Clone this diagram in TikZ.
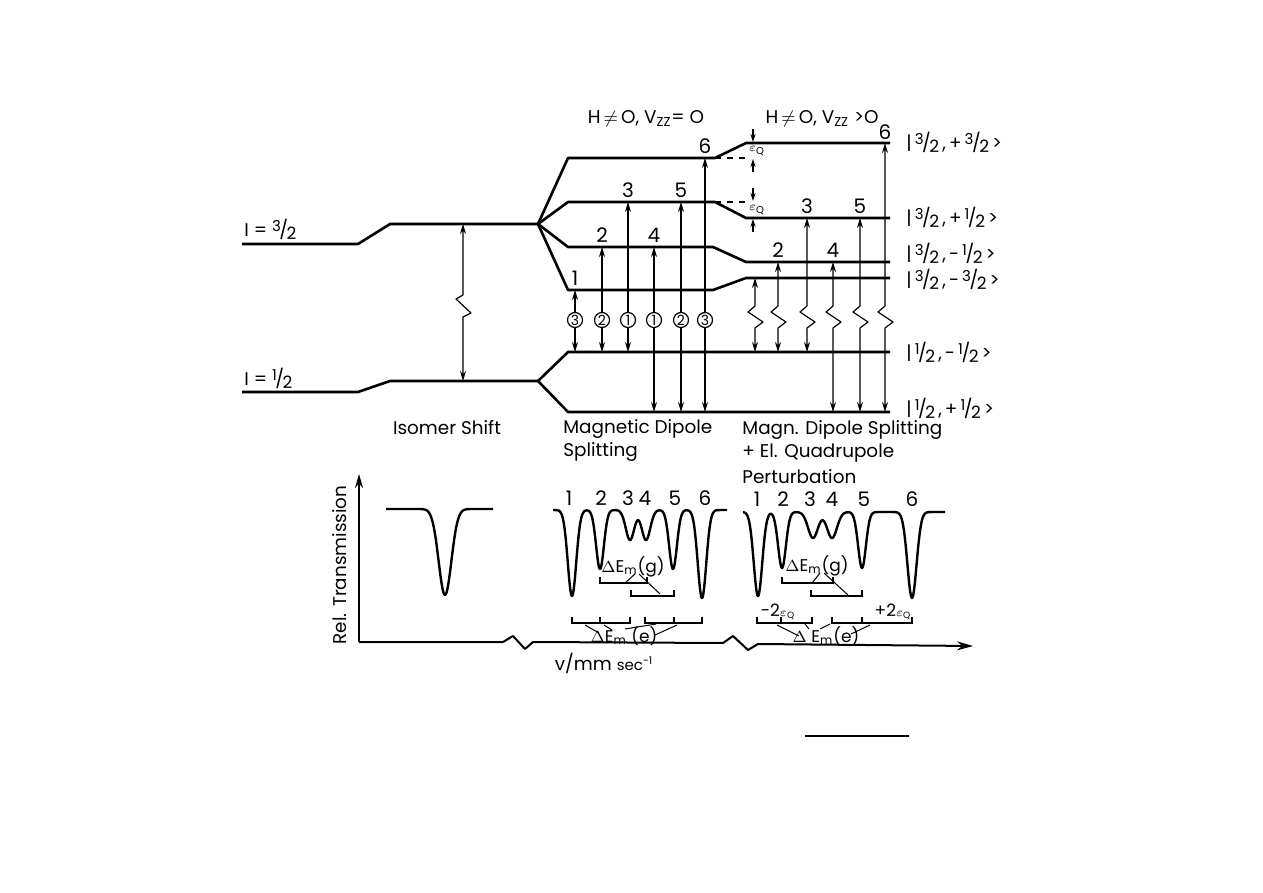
\documentclass[tikz,border=0pt]{standalone}
\usepackage{fontspec}
\setmainfont{Poppins}
\usetikzlibrary{arrows.meta}
\newcommand{\myfr}[2]{\raisebox{0.45ex}{\fontsize{7.5}{8}\selectfont #1}\kern-0.08em/\kern-0.08em\raisebox{-0.3ex}{\fontsize{8.5}{9}\selectfont #2}}
\newcommand{\myeq}{$\varepsilon_{\mathrm{Q}}$}
\begin{document}
\begin{tikzpicture}[x=0.5pt,y=-0.5pt,
  lev/.style={line width=1.3pt,line join=round},
  tr/.style={line width=0.6pt,line join=round,{Stealth[length=5pt,width=3pt]}-{Stealth[length=5pt,width=3pt]}},
  onearr/.style={line width=0.6pt,-{Stealth[length=4pt,width=2.6pt]}},
  lab/.style={font=\fontsize{9.2}{11}\selectfont,inner sep=0pt},
  numl/.style={font=\fontsize{10}{12}\selectfont,inner sep=0pt},
  small/.style={font=\fontsize{6}{6}\selectfont,inner sep=0pt},
  circ/.style={circle,draw,line width=0.6pt,fill=white,inner sep=0pt,minimum size=7.5pt,font=\fontsize{7}{7}\selectfont},
  spec/.style={line width=1.2pt,line join=round},
  brk/.style={line width=0.7pt},
  thin/.style={line width=0.5pt},
  dlab/.style={font=\fontsize{8.5}{10}\selectfont,inner sep=0pt},
  declare function={G(\t)=exp(max(-9,-(\t)*(\t)));}]
\useasboundingbox (0,0) rectangle (1263,893);

% ---------- isomer shift ----------
\draw[lev] (242,244) -- (358,244) -- (390,224) -- (538,224);
\draw[lev] (242,392) -- (358,392) -- (390,381) -- (538,381);
\coordinate (isT) at (463,224);
\coordinate (isB) at (463,381);
\draw[tr] (isT) -- (463,295) -- (456,299) -- (471,313) -- (463,317) -- (isB);
\node[lab,anchor=west] (I32) at (244,229) {I = \myfr{3}{2}};
\node[lab,anchor=west] (I12) at (244,378) {I = \myfr{1}{2}};
\node[lab] (iso) at (447,428) {Isomer Shift};

% ---------- magnetic splitting ----------
\draw[lev] (538,224) -- (568,158) -- (715,158) -- (746,143) -- (890,143);
\draw[lev] (538,224) -- (568,202) -- (715,202) -- (746,218) -- (890,218);
\draw[lev] (538,224) -- (568,247) -- (713,247) -- (746,262) -- (890,262);
\draw[lev] (538,224) -- (568,290) -- (713,290) -- (746,278) -- (890,278);
\draw[lev] (538,381) -- (568,352) -- (890,352);
\draw[lev] (538,381) -- (568,412) -- (890,412);
\draw[dashed,line width=0.8pt] (715,158) -- (751,158);
\draw[dashed,line width=0.8pt] (715,202) -- (751,202);

% epsilon_Q markers
\draw[onearr] (753,129) -- (753,142);
\draw[onearr] (753,172) -- (753,159);
\node[small] (eq1) at (757,151) {\myeq};
\draw[onearr] (753,188) -- (753,201);
\draw[onearr] (753,232) -- (753,219);
\node[small] (eq2) at (757,210) {\myeq};

\foreach \x/\yt/\yb/\n/\c in {575/290/352/1/3, 602/247/352/2/2, 628/202/352/3/1, 654/247/412/4/1, 681/202/412/5/2, 705/158/412/6/3}{
  \draw[tr] (\x,\yt) -- (\x,\yb);
  \node[circ] (c\n) at (\x,320) {\c};
  \node[numl] (m\n) at (\x,\yt-12) {\n};
}
\foreach \x/\yt/\yb/\n in {755/278/352/1, 778/262/352/2, 807/218/352/3, 833/262/412/4, 860/218/412/5, 885/143/412/6}{
  \draw[tr] (\x,\yt) -- (\x,306) -- (\x-7,312) -- (\x+8,322) -- (\x,328) -- (\x,\yb);
}
\foreach \x/\yt/\n in {778/262/2, 807/218/3, 833/262/4, 860/218/5, 885/144/6}{
  \node[numl] (q\n) at (\x,\yt-12) {\n};
}

\node[lab] (h1) at (646,119) {H\,$\neq$\,O, V\textsubscript{ZZ}= O};
\node[lab] (h2) at (822,119) {H\,$\neq$\,O, V\textsubscript{ZZ} >O};

\node[lab,anchor=west] (k1) at (906,142) {|\,\myfr{3}{2}\,,\,+\,\myfr{3}{2}\,>};
\node[lab,anchor=west] (k2) at (906,217) {|\,\myfr{3}{2}\,,\,+\,\myfr{1}{2}\,>};
\node[lab,anchor=west] (k3) at (906,253) {|\,\myfr{3}{2}\,,\,-\,\myfr{1}{2}\,>};
\node[lab,anchor=west] (k4) at (906,279) {|\,\myfr{3}{2}\,,\,-\,\myfr{3}{2}\,>};
\node[lab,anchor=west] (k5) at (906,352) {|\,\myfr{1}{2}\,,\,-\,\myfr{1}{2}\,>};
\node[lab,anchor=west] (k6) at (906,408) {|\,\myfr{1}{2}\,,\,+\,\myfr{1}{2}\,>};

\node[lab,anchor=west] (md1) at (563,429) {Magnetic Dipole};
\node[lab,anchor=west] (md2) at (563,452) {Splitting};
\node[lab,anchor=west] (mq1) at (742,430) {Magn. Dipole Splitting};
\node[lab,anchor=west] (mq2) at (742,453) {+ El. Quadrupole};
\node[lab,anchor=west] (mq3) at (742,477) {Perturbation};

% ---------- spectra ----------
\coordinate (orig) at (359,642);
\draw[line width=1pt,-{Stealth[length=7pt,width=4pt]}] (orig) -- (359,474);
\draw[line width=1pt,line join=round,-{Stealth[length=8pt,width=4.5pt]}] (orig) -- (503,642) -- (513,636) -- (525,649) -- (533,642) -- (723,643) -- (733,636) -- (748,650) -- (758,644) -- (973,646);
\node[lab,rotate=90] (rt) at (340,565) {Rel. Transmission};
\node[lab] (vax) at (604,663) {v/mm {\fontsize{7.5}{8}\selectfont sec\textsuperscript{-1}}};

\draw[spec] plot[domain=386:493,samples=120] (\x,{509+86*G((\x-445)/9)});
\draw[spec] plot[domain=553:727,samples=300] (\x,{510+86*G((\x-572)/6)+59*G((\x-600)/5.5)+30*G((\x-630)/6)+30*G((\x-646)/6)+59*G((\x-673)/5.5)+88*G((\x-702)/6)});
\draw[spec] plot[domain=743:945,samples=300] (\x,{512+84*G((\x-758)/6)+56*G((\x-782)/5.5)+26*G((\x-813)/7)+26*G((\x-832)/7)+56*G((\x-862)/5.5)+86*G((\x-912)/6.5)});

\foreach \x/\n in {569/1,601/2,628/3,645/4,675/5,705/6}{\node[numl] (sa\n) at (\x,498) {\n};}
\foreach \x/\n in {757/1,783/2,810/3,832/4,864/5,912/6}{\node[numl] (sb\n) at (\x,499) {\n};}

% spectrum 2 brackets
\node[dlab] (g2) at (633,567) {$\Delta$E\textsubscript{m}(g)};
\draw[brk] (600,577) -- (600,583) -- (647,583) -- (647,577);
\draw[brk] (631,590) -- (631,596) -- (674,596) -- (674,590);
\draw[thin] (635,574) -- (625,583);
\draw[thin] (639,574) -- (660,594);
\draw[brk] (572,617) -- (572,623) -- (630,623) -- (630,617);
\draw[brk] (600,617) -- (600,623);
\draw[brk] (645,617) -- (645,623) -- (702,623) -- (702,617);
\draw[brk] (674,617) -- (674,623);
\node[dlab] (e2) at (624,636) {$\Delta$E\textsubscript{m} (e)};
\draw[thin] (585,625) -- (599,633);
\draw[thin] (604,625) -- (612,630);
\draw[thin] (625,629) -- (656,624);
\draw[thin] (655,635) -- (677,625);

% spectrum 3 brackets
\node[dlab] (g3) at (817,566) {$\Delta$E\textsubscript{m}(g)};
\draw[brk] (782,577) -- (782,583) -- (833,583) -- (833,577);
\draw[brk] (811,590) -- (811,596) -- (862,596) -- (862,590);
\draw[thin] (820,573) -- (812,583);
\draw[thin] (824,573) -- (848,595);
\draw[brk] (757,617) -- (757,623) -- (812,623) -- (812,617);
\draw[brk] (781,617) -- (781,623);
\draw[brk] (832,617) -- (832,623) -- (912,623) -- (912,617);
\draw[brk] (862,617) -- (862,623);
\node[dlab] (m2e) at (778,612) {-2{\fontsize{6.5}{7}\selectfont\myeq}};
\node[dlab] (p2e) at (893,612) {+2{\fontsize{6.5}{7}\selectfont\myeq}};
\node[dlab] (e3) at (826,636) {$\Delta$ E\textsubscript{m}(e)};
\draw[thin] (777,625) -- (799,636);
\draw[thin] (805,624) -- (809,629);
\draw[thin] (830,624) -- (820,629);
\draw[thin] (870,625) -- (851,634);

% stray rule
\coordinate (rl) at (805,736);
\coordinate (rr) at (909,736);
\draw[line width=1.2pt] (rl) -- (rr);
\end{tikzpicture}
\end{document}
